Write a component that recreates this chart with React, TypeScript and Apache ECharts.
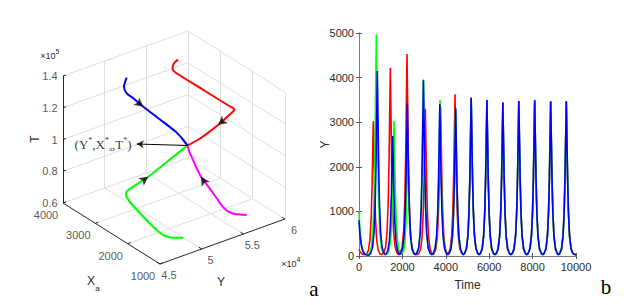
import React, { useEffect, useRef } from "react";
import * as echarts from "echarts";

// ---------------- Panel b : Y(t) time series ----------------
const timeAxis = { min: 0, max: 10000, step: 2000 };
const valueAxis = { min: 0, max: 5000, step: 1000 };

const redEarly: number[][] = [
  [0,150],[60,85],[140,45],[230,28],[300,35],[360,52],[440,140],[510,390],[560,845],[600,1510],[630,2265],[660,3020],[690,2265],[720,1510],[760,845],[810,390],[880,140],[960,52],
  [1050,30],[1144,73],[1224,195],[1294,550],[1344,1180],[1384,2110],[1414,3165],[1444,4220],[1474,3165],[1504,2110],[1544,1180],[1594,550],[1664,195],[1744,73],
  [1830,30],[1912,78],[1992,210],[2062,590],[2112,1270],[2152,2265],[2182,3400],[2212,4530],[2242,3400],[2272,2265],[2312,1270],[2362,590],[2432,210],[2512,78],
  [2630,28],[2757,57],[2837,150],[2907,430],[2957,925],[2997,1650],[3027,2475],[3057,3300],[3087,2475],[3117,1650],[3157,925],[3207,430],[3277,150],[3357,57],
  [3410,30],[3460,58],[3540,155],[3610,435],[3660,940],[3700,1675],[3730,2510],[3760,3350],[3790,2510],[3820,1675],[3860,940],[3910,435],[3980,155],[4060,58],
  [4095,30],[4124,63],[4204,170],[4274,470],[4324,1015],[4364,1810],[4394,2720],[4424,3625],[4454,2720],[4484,1810],[4524,1015],[4574,470],[4644,170],[4724,63],[4800,30],
];

const greenEarly: number[][] = [
  [0,1000],[30,700],[70,450],[120,250],[180,120],[260,55],[360,30],[430,40],[499,85],[579,225],[649,645],[699,1390],[739,2485],[769,3730],[799,4970],[829,3730],[859,2485],[899,1390],[949,645],[1019,225],[1099,85],
  [1200,20],[1313,52],[1393,140],[1463,395],[1513,850],[1553,1515],[1583,2270],[1613,3027],[1643,2270],[1673,1515],[1713,850],[1763,395],[1833,140],[1913,52],
  [1990,62],[2060,125],[2120,330],[2160,715],[2190,1275],[2215,1910],[2240,2550],[2265,1910],[2295,1275],[2335,715],[2385,330],[2455,120],[2535,45],
  [2600,30],[2665,70],[2745,180],[2815,515],[2865,1110],[2905,1980],[2935,2970],[2965,3960],[2995,2970],[3025,1980],[3065,1110],[3115,515],[3185,180],[3265,70],
  [3350,30],[3433,60],[3513,160],[3583,455],[3633,980],[3673,1750],[3703,2625],[3733,3498],[3763,2625],[3793,1750],[3833,980],[3883,455],[3953,160],[4033,60],[4095,30],
];

const blueEarly: number[][] = [
  [0,800],[30,560],[70,360],[120,200],[180,100],[260,45],[360,22],[460,18],
  [545,70],[625,190],[695,540],[745,1160],[785,2080],[815,3120],[845,4150],[875,3120],[905,2080],[945,1160],[995,540],[1065,190],[1145,70],
  [1200,40],[1251,45],[1331,125],[1401,350],[1451,750],[1491,1345],[1521,2020],[1551,2690],[1581,2020],[1611,1345],[1651,750],[1701,350],[1771,125],[1851,45],
  [1890,35],[1927,60],[2007,160],[2077,445],[2127,960],[2167,1710],[2197,2570],[2227,3420],[2257,2570],[2287,1710],[2327,960],[2377,445],[2447,160],[2527,60],
  [2600,30],[2670,70],[2750,180],[2820,510],[2870,1100],[2910,1970],[2940,2960],[2970,3940],[3000,2960],[3030,1970],[3070,1100],[3120,510],[3190,180],[3270,70],
  [3347,30],[3425,60],[3505,160],[3575,445],[3625,960],[3665,1705],[3695,2560],[3725,3410],[3755,2560],[3785,1705],[3825,960],[3875,445],[3945,160],[4025,60],[4090,30],
];

// green and blue coincide from here on
const sharedPeak4455: number[][] = [
  [4155,58],[4235,155],[4305,430],[4355,930],[4395,1655],[4425,2480],[4455,3310],[4485,2480],[4515,1655],[4555,930],[4605,430],[4675,155],[4755,58],[4812,30],
];

// all three trajectories coincide from here on
const sharedTail: number[][] = [
  [4870,62],[4950,165],[5020,460],[5070,1000],[5110,1775],[5140,2660],[5170,3550],[5200,2660],[5230,1775],[5270,1000],[5320,460],[5390,165],[5470,62],
  [5532,30],[5595,60],[5675,160],[5745,455],[5795,980],[5835,1750],[5865,2620],[5895,3500],[5925,2620],[5955,1750],[5995,980],[6045,455],[6115,160],[6195,60],
  [6262,30],[6330,60],[6410,160],[6480,445],[6530,965],[6570,1720],[6600,2580],[6630,3440],[6660,2580],[6690,1720],[6730,965],[6780,445],[6850,160],[6930,60],
  [6997,30],[7065,60],[7145,160],[7215,450],[7265,975],[7305,1735],[7335,2600],[7365,3475],[7395,2600],[7425,1735],[7465,975],[7515,450],[7585,160],[7665,60],
  [7731,30],[7797,60],[7877,160],[7947,455],[7997,980],[8037,1745],[8067,2620],[8097,3490],[8127,2620],[8157,1745],[8197,980],[8247,455],[8317,160],[8397,60],
  [8465,30],[8534,60],[8614,160],[8684,450],[8734,970],[8774,1735],[8804,2600],[8834,3468],[8864,2600],[8894,1735],[8934,970],[8984,450],[9054,160],[9134,60],
  [9193,30],[9253,60],[9333,160],[9403,450],[9453,970],[9493,1735],[9523,2600],[9553,3468],[9583,2600],[9613,1735],[9653,970],[9703,450],[9773,160],[9853,60],[9930,35],[10000,30],
];

// ---------------- Panel a : 3D phase trajectories [Y, Xa, T] ----------------
const yTicks3d = [45000, 50000, 55000, 60000];
const yTickLabels = ["4.5", "5", "5.5", "6"];
const xaTicks3d = [1000, 2000, 3000, 4000];
const xaTickLabels = ["1000", "2000", "3000", "4000"];
const tTicks3d = [60000, 80000, 100000, 120000, 140000];
const tTickLabels = ["0.6", "0.8", "1", "1.2", "1.4"];

const equilibrium = [53774, 2411, 100000];
const labelAnchor = [50079, 3029, 100000];

const redPath = [[57936,3777,128800],[57356,3767,127200],[57134,3741,124800],[57401,3717,122400],[57870,2925,120000],[58205,2238,118400],[58338,2133,117600],[58091,2147,116000],[56585,2192,110400],[54653,2250,104800],equilibrium];
const bluePath = [[50426,3428,136000],[49590,3296,133600],[49611,3218,130400],[49971,3107,128000],[50486,2930,124000],[51439,2660,117600],[52530,2446,110400],[53256,2432,104800],equilibrium];
const greenPath = [[49200,1362,64000],[48282,1434,64800],[47700,1542,65600],[47642,1783,66400],[47616,2191,69600],[47810,2600,72000],[47933,2786,73600],[48057,2839,75200],[48324,2837,76800],[49923,2631,84800],[51638,2463,93600],equilibrium];
const magentaPath = [[55713,1080,69600],[54788,1203,70400],[54248,1271,72000],[53964,1371,74400],[53910,1543,77600],[53906,1801,81600],[53792,1998,85600],[53712,2110,89600],[53664,2234,94400],[53621,2316,97600],equilibrium];

const SANS = "'Liberation Sans', Arial, sans-serif";
const SERIF = "'Liberation Serif', 'Times New Roman', serif";
const TXT = "#2b2b2b";

// orthographic view of the 3D box (pixel layout of panel a)
const Y0 = yTicks3d[0], Y1 = yTicks3d[yTicks3d.length - 1];
const XA0 = xaTicks3d[0], XA1 = xaTicks3d[xaTicks3d.length - 1];
const T0 = tTicks3d[0], T1 = tTicks3d[tTicks3d.length - 1];
const VIEW = { ox: 63, oy: 203, yx: 125, yy: -45, ax: 97, ay: 61, tx: 0, ty: -127 };

function project(p: number[]): number[] {
  const s = (p[0] - Y0) / (Y1 - Y0);
  const b = (XA1 - p[1]) / (XA1 - XA0);
  const t = (p[2] - T0) / (T1 - T0);
  return [
    VIEW.ox + VIEW.yx * s + VIEW.ax * b + VIEW.tx * t,
    VIEW.oy + VIEW.yy * s + VIEW.ay * b + VIEW.ty * t,
  ];
}

function seg(a: number[], b: number[]) {
  return { coords: [project(a), project(b)] };
}

function arrowAt(path: number[][], i: number) {
  const a = project(path[i - 1]);
  const b = project(path[i + 1]);
  const du = b[0] - a[0];
  const dv = b[1] - a[1];
  return { value: project(path[i]), symbolRotate: (Math.atan2(-du, -dv) * 180) / Math.PI };
}

function buildOption() {
  const gridSegs: any[] = [];
  // floor
  xaTicks3d.filter((x) => x !== XA0).forEach((xa) => gridSegs.push(seg([Y0, xa, T0], [Y1, xa, T0])));
  yTicks3d.filter((y) => y !== Y0).forEach((y) => gridSegs.push(seg([y, XA0, T0], [y, XA1, T0])));
  // back wall Xa = max
  tTicks3d.filter((t) => t !== T0).forEach((t) => gridSegs.push(seg([Y0, XA1, t], [Y1, XA1, t])));
  yTicks3d.filter((y) => y !== Y0).forEach((y) => gridSegs.push(seg([y, XA1, T0], [y, XA1, T1])));
  // back wall Y = max
  tTicks3d.filter((t) => t !== T0).forEach((t) => gridSegs.push(seg([Y1, XA0, t], [Y1, XA1, t])));
  xaTicks3d.filter((x) => x !== XA1).forEach((xa) => gridSegs.push(seg([Y1, xa, T0], [Y1, xa, T1])));

  const axisSegs: any[] = [
    seg([Y0, XA1, T0], [Y0, XA1, T1]),
    seg([Y0, XA1, T0], [Y0, XA0, T0]),
    seg([Y0, XA0, T0], [Y1, XA0, T0]),
  ];
  tTicks3d.forEach((t) => axisSegs.push(seg([Y0, XA1, t], [Y0 + 350, XA1, t])));
  xaTicks3d.forEach((xa) => axisSegs.push(seg([Y0, xa, T0], [Y0 + 350, xa, T0])));
  yTicks3d.forEach((y) => axisSegs.push(seg([y, XA0, T0], [y, XA0 + 90, T0])));

  const curve = (path: number[][], color: string) => ({
    type: "line",
    xAxisIndex: 2,
    yAxisIndex: 2,
    data: path.map(project),
    showSymbol: false,
    symbol: "none",
    smooth: 0.25,
    lineStyle: { color, width: 2 },
    silent: true,
    z: 3,
  });

  const ts = (data: number[][], color: string, z: number) => ({
    type: "line",
    xAxisIndex: 0,
    yAxisIndex: 0,
    data,
    showSymbol: false,
    symbol: "none",
    lineStyle: { color, width: 1.6 },
    silent: true,
    z,
  });

  const labelSeries = (data: any[], label: any) => ({
    type: "scatter",
    xAxisIndex: 2,
    yAxisIndex: 2,
    symbolSize: 1,
    itemStyle: { color: "rgba(0,0,0,0)" },
    silent: true,
    data,
    label: { show: true, formatter: "{b}", color: TXT, fontSize: 11, fontFamily: SANS, ...label },
    z: 5,
  });

  const axisCommonX = {
    type: "value",
    gridIndex: 0,
    min: timeAxis.min,
    max: timeAxis.max,
    interval: timeAxis.step,
    splitLine: { show: false },
    axisLine: { show: true, lineStyle: { color: "#7a7a7a", width: 1 } },
    axisTick: { show: true, inside: true, length: 3, lineStyle: { color: "#555" } },
  };
  const axisCommonY = {
    type: "value",
    gridIndex: 0,
    min: valueAxis.min,
    max: valueAxis.max,
    interval: valueAxis.step,
    splitLine: { show: false },
    axisLine: { show: true, lineStyle: { color: "#7a7a7a", width: 1 } },
    axisTick: { show: true, inside: true, length: 3, lineStyle: { color: "#555" } },
  };
  const plain = (v: number) => String(v);

  return {
    animation: false,
    backgroundColor: "#ffffff",
    grid: [
      { left: 359, top: 33, width: 217, height: 223 },
      { left: 0, top: 0, width: 320, height: 305 },
    ],
    xAxis: [
      {
        ...axisCommonX,
        position: "bottom",
        axisLabel: { color: TXT, fontSize: 11, fontFamily: SANS, margin: 5, formatter: plain },
        name: "Time",
        nameLocation: "middle",
        nameGap: 23,
        nameMoveOverlap: false,
        nameTextStyle: { color: TXT, fontSize: 12, fontFamily: SANS },
      },
      { ...axisCommonX, position: "top", axisLabel: { show: false } },
      { type: "value", gridIndex: 1, min: 0, max: 320, show: false },
    ],
    yAxis: [
      {
        ...axisCommonY,
        position: "left",
        axisLabel: { color: TXT, fontSize: 11, fontFamily: SANS, margin: 5, formatter: plain },
        name: "Y",
        nameLocation: "middle",
        nameGap: 28,
        nameMoveOverlap: false,
        nameTextStyle: { color: TXT, fontSize: 12, fontFamily: SANS },
      },
      { ...axisCommonY, position: "right", axisLabel: { show: false } },
      { type: "value", gridIndex: 1, min: 0, max: 305, inverse: true, show: false },
    ],
    series: [
      ts(redEarly.concat(sharedTail), "#ff0000", 2),
      ts(greenEarly.concat(sharedPeak4455, sharedTail), "#00ff00", 3),
      ts(blueEarly.concat(sharedPeak4455, sharedTail), "#0000ff", 4),
      {
        type: "lines",
        coordinateSystem: "cartesian2d",
        xAxisIndex: 2,
        yAxisIndex: 2,
        data: gridSegs,
        lineStyle: { color: "#dedede", width: 1, opacity: 1 },
        silent: true,
        z: 1,
      },
      {
        type: "lines",
        coordinateSystem: "cartesian2d",
        xAxisIndex: 2,
        yAxisIndex: 2,
        data: axisSegs,
        lineStyle: { color: "#262626", width: 1, opacity: 1 },
        silent: true,
        z: 2,
      },
      {
        type: "lines",
        coordinateSystem: "cartesian2d",
        xAxisIndex: 2,
        yAxisIndex: 2,
        data: [seg(equilibrium, labelAnchor)],
        lineStyle: { color: "#000", width: 1, opacity: 1 },
        silent: true,
        z: 4,
      },
      curve(redPath, "#ff0000"),
      curve(bluePath, "#0000ff"),
      curve(greenPath, "#00ff00"),
      curve(magentaPath, "#ff00ff"),
      {
        type: "scatter",
        xAxisIndex: 2,
        yAxisIndex: 2,
        symbol: "arrow",
        symbolSize: [7, 9],
        itemStyle: { color: "#000" },
        silent: true,
        data: [arrowAt(redPath, 8), arrowAt(bluePath, 4), arrowAt(greenPath, 9), arrowAt(magentaPath, 6)],
        z: 6,
      },
      {
        type: "scatter",
        xAxisIndex: 2,
        yAxisIndex: 2,
        symbol: "arrow",
        symbolSize: [6, 7],
        itemStyle: { color: "#000" },
        silent: true,
        data: [arrowAt([equilibrium, labelAnchor, [labelAnchor[0] - 1000, labelAnchor[1] + 200, labelAnchor[2]]], 1)],
        label: {
          show: true,
          position: "left",
          distance: 5,
          formatter: "{m|(Y}{p|*}{m|,X}{p|*}{q|a}{m|,T}{p|*}{m|)}",
          rich: {
            m: { fontFamily: SERIF, fontSize: 13, color: "#000", lineHeight: 16 },
            p: { fontFamily: SERIF, fontSize: 8, color: "#000", verticalAlign: "top", lineHeight: 16 },
            q: { fontFamily: SERIF, fontSize: 7, color: "#000", verticalAlign: "bottom", lineHeight: 16 },
          },
        },
        z: 6,
      },
      labelSeries(
        tTicks3d.map((t, i) => ({ value: project([Y0, XA1, t]), name: tTickLabels[i] })),
        { position: "left", distance: 5 }
      ),
      labelSeries(
        xaTicks3d.map((xa, i) => ({ value: project([Y0, xa, T0]), name: xaTickLabels[i] })),
        { position: "inside", offset: [-17, 12] }
      ),
      labelSeries(
        yTicks3d.map((y, i) => ({ value: project([y, XA0, T0]), name: yTickLabels[i] })),
        { position: "inside", offset: [9, 11] }
      ),
    ],
    graphic: [
      { type: "text", x: 35, y: 139, rotation: Math.PI / 2, style: { text: "T", font: `12px ${SANS}`, fill: TXT, align: "center", verticalAlign: "middle" } },
      { type: "text", x: 48, y: 56, style: { text: "×10", font: `9px ${SANS}`, fill: TXT, align: "center", verticalAlign: "middle" } },
      { type: "text", x: 57.5, y: 51, style: { text: "5", font: `7px ${SANS}`, fill: TXT, align: "center", verticalAlign: "middle" } },
      { type: "text", x: 289, y: 264, style: { text: "×10", font: `9px ${SANS}`, fill: TXT, align: "center", verticalAlign: "middle" } },
      { type: "text", x: 298.5, y: 259, style: { text: "4", font: `7px ${SANS}`, fill: TXT, align: "center", verticalAlign: "middle" } },
      { type: "text", x: 91, y: 281, style: { text: "X", font: `12px ${SANS}`, fill: TXT, align: "center", verticalAlign: "middle" } },
      { type: "text", x: 97.5, y: 288, style: { text: "a", font: `8px ${SANS}`, fill: TXT, align: "center", verticalAlign: "middle" } },
      { type: "text", x: 221, y: 282, style: { text: "Y", font: `12px ${SANS}`, fill: TXT, align: "center", verticalAlign: "middle" } },
      { type: "text", x: 314, y: 289, style: { text: "a", font: `21px ${SERIF}`, fill: "#000", align: "center", verticalAlign: "middle" } },
      { type: "text", x: 606, y: 287, style: { text: "b", font: `21px ${SERIF}`, fill: "#000", align: "center", verticalAlign: "middle" } },
    ],
  };
}

export default function App() {
  const ref = useRef<HTMLDivElement>(null);
  useEffect(() => {
    document.body.style.margin = "0";
    if (!ref.current) return;
    const chart = echarts.init(ref.current, null, { renderer: "svg" });
    chart.setOption(buildOption() as any);
    return () => chart.dispose();
  }, []);
  return <div ref={ref} style={{ width: 644, height: 305, background: "#fff" }} />;
}
